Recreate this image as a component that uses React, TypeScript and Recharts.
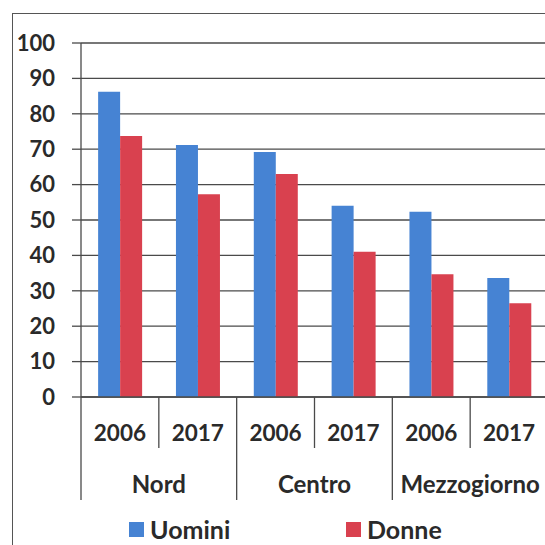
import React from 'react';
import { BarChart, Bar, XAxis, YAxis, CartesianGrid, Legend } from 'recharts';

const regions = ['Nord', 'Centro', 'Mezzogiorno'];
const years = ['2006', '2017'];
const uomini = [86.2, 71.2, 69.2, 54.0, 52.3, 33.6];
const donne = [73.7, 57.3, 63.0, 41.0, 34.7, 26.5];
const yTicks = [0, 10, 20, 30, 40, 50, 60, 70, 80, 90, 100];

const data = regions.flatMap((region, r) =>
  years.map((year, k) => ({
    region,
    year,
    Uomini: uomini[r * years.length + k],
    Donne: donne[r * years.length + k],
  }))
);

const BLUE = '#4683D3';
const RED = '#D9414F';
const INK = '#2a2a2a';
const LINE = '#4a4a4a';
const FONT = 'Lato, "Open Sans", sans-serif';

const CategoryTick = (props: any) => {
  const { x, y, payload } = props;
  const i = payload.index ?? props.index ?? 0;
  const half = payload.offset ?? 39;
  const lastOfGroup = (i + 1) % years.length === 0;
  return (
    <g>
      {i === 0 && <line x1={x - half} x2={x - half} y1={y} y2={y + 103} stroke={LINE} strokeWidth={1.3} />}
      <line x1={x + half} x2={x + half} y1={y} y2={lastOfGroup ? y + 103 : y + 51} stroke={LINE} strokeWidth={1.3} />
      <text x={x} y={y + 35} textAnchor="middle" dominantBaseline="central" fill={INK}
            fontSize={22.5} fontWeight={700} fontFamily={FONT}>
        {payload.value}
      </text>
      {lastOfGroup && (
        <text x={x - half} y={y + 86} textAnchor="middle" dominantBaseline="central" fill={INK}
              fontSize={24} fontWeight={700} fontFamily={FONT}>
          {data[i].region}
        </text>
      )}
    </g>
  );
};

const LegendContent = () => (
  <div style={{ position: 'relative', height: 40, fontFamily: FONT, fontSize: 25, fontWeight: 700, color: INK }}>
    <div style={{ position: 'absolute', left: 129, top: 9, display: 'flex', alignItems: 'center' }}>
      <span style={{ width: 15, height: 15, background: BLUE, marginRight: 6 }} />Uomini
    </div>
    <div style={{ position: 'absolute', left: 346, top: 9, display: 'flex', alignItems: 'center' }}>
      <span style={{ width: 15, height: 15, background: RED, marginRight: 6 }} />Donne
    </div>
  </div>
);

export default function App() {
  return (
    <div style={{ position: 'fixed', left: 0, top: 0, width: 545, height: 545, overflow: 'hidden', background: '#fff' }}>
      <div style={{ position: 'absolute', left: 12, top: 13, width: 600, height: 600, border: '1.5px solid #555' }} />
      <div style={{ position: 'absolute', left: 0, top: 0 }}>
        <BarChart width={548} height={545} data={data}
                  margin={{ top: 43, right: 0, left: 0, bottom: 0 }}
                  barCategoryGap="22%" barGap={0}>
          <CartesianGrid horizontal vertical={false} stroke={LINE} strokeWidth={1.3} />
          <XAxis dataKey="year" height={108} tick={<CategoryTick />} tickLine={false}
                 tickSize={0} tickMargin={0} interval={0} axisLine={{ stroke: LINE, strokeWidth: 1.3 }} />
          <YAxis domain={[0, 100]} ticks={yTicks} width={81} tickSize={9} tickMargin={17}
                 axisLine={{ stroke: LINE, strokeWidth: 1.3 }} tickLine={{ stroke: LINE, strokeWidth: 1.3 }}
                 tick={{ fontSize: 22, fontWeight: 700, fill: INK, fontFamily: FONT }} />
          <Legend verticalAlign="bottom" height={40} content={<LegendContent />} />
          <Bar dataKey="Uomini" fill={BLUE} isAnimationActive={false} />
          <Bar dataKey="Donne" fill={RED} isAnimationActive={false} />
        </BarChart>
      </div>
    </div>
  );
}
